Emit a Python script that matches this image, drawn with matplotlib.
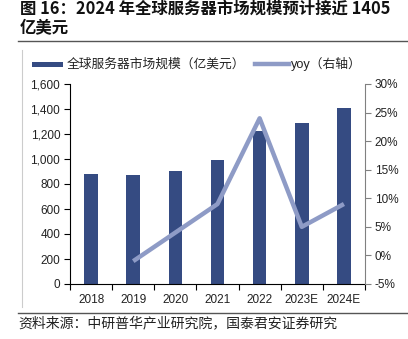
import matplotlib
matplotlib.use("Agg")
import matplotlib.pyplot as plt
from matplotlib.lines import Line2D
from matplotlib.patches import Rectangle
from matplotlib.ticker import FuncFormatter, FixedLocator

plt.rcParams['font.family'] = ['Liberation Sans', 'Noto Sans CJK SC', 'DejaVu Sans']

years = ["2018", "2019", "2020", "2021", "2022", "2023E", "2024E"]
market_size = [880, 872, 904, 990, 1226, 1288, 1405]   # 亿美元
yoy_years = ["2019", "2020", "2021", "2022", "2023E", "2024E"]
yoy_pct = [-1.0, 4.0, 9.0, 24.0, 5.0, 9.0]

left_ticks = [0, 200, 400, 600, 800, 1000, 1200, 1400, 1600]
right_ticks = [-5, 0, 5, 10, 15, 20, 25, 30]

title_line1 = "图 16：2024 年全球服务器市场规模预计接近 1405"
title_line2 = "亿美元"
bar_label = "全球服务器市场规模（亿美元）"
line_label = "yoy（右轴）"
source = "资料来源：中研普华产业研究院，国泰君安证券研究"

BAR_COLOR = "#354b82"
LINE_COLOR = "#8e9bc6"
CJK = ['Noto Sans CJK SC', 'DejaVu Sans']

W, H = 408, 339
fig = plt.figure(figsize=(W / 100, H / 100), dpi=100)

def fx(px):
    return px / W

def fy(py):
    return 1 - py / H

ax = fig.add_axes([fx(70), fy(284), fx(365) - fx(70), fy(84) - fy(284)])
ax2 = ax.twinx()

x = list(range(len(years)))
ax.bar(x, market_size, width=0.32, color=BAR_COLOR, zorder=2)
ax.set_xlim(-0.5, len(years) - 0.5)
ax.set_ylim(0, 1600)
ax.yaxis.set_major_locator(FixedLocator(left_ticks))
ax.yaxis.set_major_formatter(FuncFormatter(lambda v, p: f"{int(v):,}"))

xi = [years.index(y) for y in yoy_years]
ax2.plot(xi, yoy_pct, color=LINE_COLOR, lw=3.2, solid_capstyle='butt', zorder=3)
ax2.set_ylim(-5, 30)
ax2.yaxis.set_major_locator(FixedLocator(right_ticks))
ax2.yaxis.set_major_formatter(FuncFormatter(lambda v, p: f"{int(v)}%"))

# category ticks sit between bars
ax.set_xticks([i - 0.5 for i in range(len(years) + 1)])
ax.set_xticklabels([])
ax.set_xticks(x, minor=True)
ax.set_xticklabels(years, minor=True)
ax.tick_params(axis='x', which='major', direction='out', length=4, width=0.8, color='black')
ax.tick_params(axis='x', which='minor', length=0, pad=7, labelsize=8.5, labelcolor='#222222')
ax.tick_params(axis='y', direction='out', length=4, width=0.8, pad=3, labelsize=8.5, labelcolor='#222222')
ax2.tick_params(axis='y', direction='out', length=4, width=0.8, pad=3, labelsize=8.5,
                color='#808080', labelcolor='#222222')

for a in (ax, ax2):
    a.spines['top'].set_visible(False)
    a.patch.set_visible(False)
ax.spines['right'].set_visible(False)
ax.spines['left'].set_color('black')
ax.spines['bottom'].set_color('black')
ax2.spines['left'].set_visible(False)
ax2.spines['bottom'].set_visible(False)
ax2.spines['right'].set_color('#808080')

# title, two lines
fig.text(fx(20), fy(8.5), title_line1, family=CJK,
         fontsize=11.8, fontweight='bold', va='center', ha='left', color='#111111')
fig.text(fx(20), fy(28), title_line2, family=CJK,
         fontsize=11.8, fontweight='bold', va='center', ha='left', color='#111111')

# frame rules
fig.add_artist(Line2D([fx(18), 1], [fy(41), fy(41)], color='#555555', lw=1.0))
fig.add_artist(Line2D([fx(18), 1], [fy(312.5), fy(312.5)], color='#555555', lw=1.0))
fig.add_artist(Line2D([fx(22), fx(22)], [fy(50), fy(307)], color='#cccccc', lw=0.8))

# legend
fig.add_artist(Rectangle((fx(32), fy(66.5)), fx(63) - fx(32), fy(62) - fy(66.5),
                         color=BAR_COLOR, lw=0))
fig.text(fx(67), fy(64), bar_label, family=CJK, fontsize=9.2, va='center', ha='left', color='#222222')
fig.add_artist(Line2D([fx(255), fx(289)], [fy(64), fy(64)], color=LINE_COLOR, lw=3.2))
fig.text(fx(291), fy(64), line_label, family=['Liberation Sans', 'Noto Sans CJK SC'],
         fontsize=9.2, va='center', ha='left', color='#222222')

# source
fig.text(fx(18), fy(323), source, family=CJK, fontsize=10, va='center', ha='left', color='#222222')

fig.savefig("out.png", dpi=100)
